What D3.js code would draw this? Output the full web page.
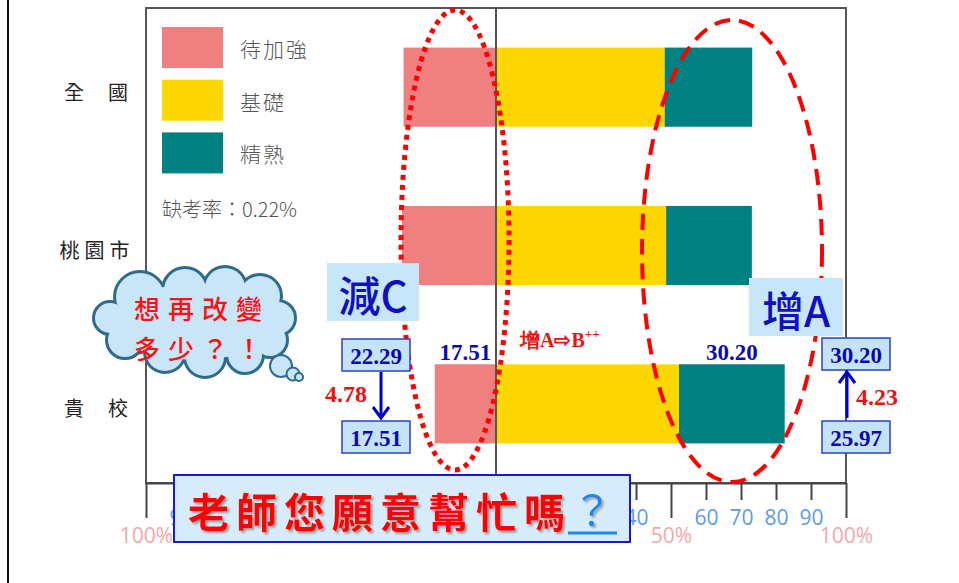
<!DOCTYPE html>
<html>
<head>
<meta charset="utf-8">
<script src="https://cdn.jsdelivr.net/npm/d3@7"></script>
<style>
  body { margin: 0; background: #fff; }
  svg { display: block; }
</style>
</head>
<body>
<div id="chart"></div>
<script>
// data
const categories = ['全國', '桃園市', '貴校'];
const categoryLabels = ['全　國', '桃園市', '貴　校'];
const series = ['待加強', '基礎', '精熟'];
const seriesColors = ['#f08080', '#ffd700', '#008080'];
const valuesC = [26.4, 26.9, 17.51];
const valuesB = [48.2, 48.6, 52.29];
const valuesA = [25.0, 24.5, 30.20];
const tickValues = d3.range(-100, 101, 10);
const absentRate = '缺考率：0.22%';

const width = 959, height = 583;
const plot = {left: 146, right: 846, top: 8, bottom: 483};
const banner = {x: 174, y: 475, w: 456, h: 67};

const svg = d3.select('#chart').append('svg')
    .attr('width', width)
    .attr('height', height);

const defs = svg.append('defs');
const shadow = defs.append('filter').attr('id', 'shadow')
    .attr('x', '-10%').attr('y', '-10%').attr('width', '130%').attr('height', '140%');
shadow.append('feDropShadow')
    .attr('dx', 2).attr('dy', 2).attr('stdDeviation', 1)
    .attr('flood-color', '#888').attr('flood-opacity', 0.8);

const x = d3.scaleLinear().domain([-100, 100]).range([plot.left, plot.right]);
const y = d3.scaleBand().domain(categories)
    .range([plot.top, plot.bottom])
    .paddingInner(0.5).paddingOuter(0.25);

// left page border
svg.append('line')
    .attr('x1', 8).attr('x2', 8).attr('y1', 0).attr('y2', height)
    .attr('stroke', '#111').attr('stroke-width', 2);

// frame
svg.append('rect')
    .attr('x', plot.left).attr('y', plot.top)
    .attr('width', plot.right - plot.left).attr('height', plot.bottom - plot.top)
    .attr('fill', 'none').attr('stroke', '#555').attr('stroke-width', 2);

// stacked bars
const rows = categories.map((c, i) => ({cat: c, C: valuesC[i], B: valuesB[i], A: valuesA[i]}));
const barG = svg.append('g');
rows.forEach(d => {
    const segs = [
        {x0: -d.C, x1: 0, color: seriesColors[0]},
        {x0: 0, x1: d.B, color: seriesColors[1]},
        {x0: d.B, x1: d.B + d.A, color: seriesColors[2]}
    ];
    barG.selectAll(null).data(segs).enter().append('rect')
        .attr('x', s => x(s.x0))
        .attr('width', s => x(s.x1) - x(s.x0))
        .attr('y', y(d.cat))
        .attr('height', y.bandwidth())
        .attr('fill', s => s.color);
});

// zero line
svg.append('line')
    .attr('x1', x(0)).attr('x2', x(0))
    .attr('y1', plot.top).attr('y2', plot.bottom)
    .attr('stroke', '#555').attr('stroke-width', 2);

// x axis (labels fully under the banner are not drawn, they are hidden there anyway)
const hidden = v => x(v) - 14 > banner.x && x(v) + 14 < banner.x + banner.w;
const axis = svg.append('g')
    .attr('transform', `translate(0,${plot.bottom})`)
    .call(d3.axisBottom(x).tickValues(tickValues).tickSize(17).tickSizeOuter(0)
        .tickFormat(v => (Math.abs(v) % 50 === 0 || hidden(v)) ? '' : Math.abs(v)));
axis.select('.domain').attr('stroke', '#444').attr('stroke-width', 2);
axis.selectAll('.tick line')
    .attr('stroke', '#444').attr('stroke-width', 2)
    .attr('y2', v => Math.abs(v) % 50 === 0 ? 35 : 17);
axis.selectAll('.tick text')
    .attr('y', 42).attr('dy', 0)
    .attr('fill', '#5b9be8')
    .style('font-family', 'Open Sans, sans-serif')
    .style('font-size', '21px');
axis.selectAll('.tick').filter(v => Math.abs(v) % 50 === 0 && !hidden(v))
    .append('text')
    .attr('y', 60).attr('fill', '#f4a7a7')
    .attr('text-anchor', 'middle')
    .style('font-family', 'Open Sans, sans-serif')
    .style('font-size', '21px')
    .text(v => Math.abs(v) + '%');

// category labels
svg.append('g').selectAll('text')
    .data(categories).enter().append('text')
    .attr('x', 97)
    .attr('y', d => y(d) + y.bandwidth() / 2 + 4)
    .attr('text-anchor', 'middle')
    .attr('dominant-baseline', 'central')
    .attr('fill', '#222')
    .style('font-family', 'Noto Sans CJK TC')
    .style('font-size', '20px')
    .style('letter-spacing', (d, i) => categoryLabels[i].includes('　') ? '2px' : '5px')
    .text((d, i) => categoryLabels[i]);

// legend
const legend = svg.append('g').attr('transform', 'translate(162,27)');
series.forEach((s, i) => {
    legend.append('rect')
        .attr('x', 0).attr('y', i * 52.7)
        .attr('width', 61).attr('height', 41)
        .attr('fill', seriesColors[i]);
    legend.append('text')
        .attr('x', 78).attr('y', i * 52.7 + 21)
        .attr('dominant-baseline', 'central')
        .attr('fill', '#555')
        .style('font-family', 'Noto Sans CJK TC')
        .style('font-weight', 300)
        .style('font-size', '21px')
        .style('letter-spacing', '2px')
        .text(s);
});
legend.append('text')
    .attr('x', 0).attr('y', 181)
    .attr('dominant-baseline', 'central')
    .attr('fill', '#555')
    .style('font-family', 'Noto Sans CJK TC')
    .style('font-weight', 300)
    .style('font-size', '20px')
    .text(absentRate);

// highlight ellipses
svg.append('ellipse')
    .attr('cx', 455).attr('cy', 240).attr('rx', 54).attr('ry', 230)
    .attr('fill', 'none').attr('stroke', '#ff0000')
    .attr('stroke-width', 5).attr('stroke-dasharray', '5 5');
svg.append('ellipse')
    .attr('cx', 732).attr('cy', 251).attr('rx', 90).attr('ry', 231)
    .attr('fill', 'none').attr('stroke', '#ff0000')
    .attr('stroke-width', 4).attr('stroke-dasharray', '16 9');

// value labels over school bar
const school = rows[2];
const numFont = 'Liberation Serif, Times New Roman, serif';
svg.append('text')
    .attr('x', (x(-school.C) + x(0)) / 2).attr('y', y(school.cat) - 12)
    .attr('text-anchor', 'middle').attr('dominant-baseline', 'central')
    .attr('fill', '#0a0ab0').style('font-family', numFont)
    .style('font-weight', 'bold').style('font-size', '23px')
    .text(school.C.toFixed(2));
svg.append('text')
    .attr('x', (x(school.B) + x(school.B + school.A)) / 2).attr('y', y(school.cat) - 12)
    .attr('text-anchor', 'middle').attr('dominant-baseline', 'central')
    .attr('fill', '#0a0ab0').style('font-family', numFont)
    .style('font-weight', 'bold').style('font-size', '23px')
    .text(school.A.toFixed(2));

svg.append('text')
    .attr('x', 520).attr('y', 340)
    .attr('dominant-baseline', 'central')
    .attr('fill', '#ee1111').style('font-family', numFont)
    .style('font-weight', 'bold').style('font-size', '20px')
    .html('增A⇨B<tspan font-size="13px" dy="-7">++</tspan>');

// big tag boxes
function tag(cx, cy, w, h, label) {
    svg.append('rect')
        .attr('x', cx - w / 2).attr('y', cy - h / 2)
        .attr('width', w).attr('height', h)
        .attr('fill', '#c8e6fa');
    svg.append('text')
        .attr('x', cx).attr('y', cy + 1)
        .attr('text-anchor', 'middle').attr('dominant-baseline', 'central')
        .attr('fill', '#1010c0')
        .style('font-family', 'Noto Sans CJK TC')
        .style('font-weight', 500)
        .style('font-size', '42px')
        .text(label);
}
tag(373, 292, 92, 58, '減C');
tag(796, 307, 94, 58, '增A');

// small value boxes
function valBox(cx, cy, label) {
    svg.append('rect')
        .attr('x', cx - 34).attr('y', cy - 16)
        .attr('width', 68).attr('height', 32)
        .attr('fill', '#c5e3f7').attr('stroke', '#2b3fd0').attr('stroke-width', 1.5);
    svg.append('text')
        .attr('x', cx).attr('y', cy + 1)
        .attr('text-anchor', 'middle').attr('dominant-baseline', 'central')
        .attr('fill', '#0a0ab0').style('font-family', numFont)
        .style('font-weight', 'bold').style('font-size', '23px')
        .text(label);
}
valBox(376, 355, '22.29');
valBox(376, 437, '17.51');
valBox(856, 354, '30.20');
valBox(856, 437, '25.97');

function arrow(ax, y1, y2) {
    const dir = y2 > y1 ? 1 : -1;
    svg.append('line')
        .attr('x1', ax).attr('x2', ax).attr('y1', y1).attr('y2', y2)
        .attr('stroke', '#0000cc').attr('stroke-width', 3);
    svg.append('path')
        .attr('d', `M${ax - 8},${y2 - dir * 11}L${ax},${y2}L${ax + 8},${y2 - dir * 11}`)
        .attr('fill', 'none').attr('stroke', '#0000cc').attr('stroke-width', 3);
}
arrow(381, 372, 418);
arrow(847, 418, 372);

function diffText(tx, ty, label, anchor) {
    svg.append('text')
        .attr('x', tx).attr('y', ty)
        .attr('text-anchor', anchor).attr('dominant-baseline', 'central')
        .attr('fill', '#ee1111').style('font-family', numFont)
        .style('font-weight', 'bold').style('font-size', '24px')
        .text(label);
}
diffText(367, 394, '4.78', 'end');
diffText(856, 397, '4.23', 'start');

// thought cloud
const cloudFill = '#c8e6f8', cloudStroke = '#2f6b8a';
const bumps = [
    [140, 297, 25], [185, 290, 22], [225, 288, 21], [260, 296, 21],
    [278, 318, 17], [270, 340, 17], [245, 355, 18], [205, 357, 20],
    [165, 352, 20], [125, 340, 18], [110, 318, 16]
];
const cloud = svg.append('g');
cloud.selectAll('.edge').data(bumps).enter().append('circle')
    .attr('cx', d => d[0]).attr('cy', d => d[1]).attr('r', d => d[2])
    .attr('fill', cloudFill).attr('stroke', cloudStroke).attr('stroke-width', 4);
cloud.selectAll('.fill').data(bumps).enter().append('circle')
    .attr('cx', d => d[0]).attr('cy', d => d[1]).attr('r', d => d[2] - 1)
    .attr('fill', cloudFill);
cloud.append('ellipse')
    .attr('cx', 195).attr('cy', 322).attr('rx', 82).attr('ry', 38)
    .attr('fill', cloudFill);
[[281, 366, 11], [293, 374, 6.5], [299, 377, 4]].forEach(b => {
    cloud.append('circle')
        .attr('cx', b[0]).attr('cy', b[1]).attr('r', b[2])
        .attr('fill', cloudFill).attr('stroke', cloudStroke).attr('stroke-width', 2);
});
['想再改變', '多少？！'].forEach((line, i) => {
    cloud.append('text')
        .attr('x', 198).attr('y', 307 + i * 40)
        .attr('text-anchor', 'middle').attr('dominant-baseline', 'central')
        .attr('fill', '#ff1010')
        .style('font-family', 'Noto Sans CJK TC')
        .style('font-weight', 500)
        .style('font-size', '26px')
        .attr('textLength', 128)
        .text(line);
});

// bottom banner
svg.append('rect')
    .attr('x', banner.x).attr('y', banner.y)
    .attr('width', banner.w).attr('height', banner.h)
    .attr('fill', '#d6ecfa').attr('stroke', '#1a1acc').attr('stroke-width', 2);
svg.append('text')
    .attr('x', 188).attr('y', 510)
    .attr('dominant-baseline', 'central')
    .attr('fill', '#ff0000')
    .attr('filter', 'url(#shadow)')
    .style('font-family', 'Noto Sans CJK TC')
    .style('font-weight', 'bold')
    .style('font-size', '41px')
    .attr('textLength', 377)
    .attr('lengthAdjust', 'spacing')
    .text('老師您願意幫忙嗎');
svg.append('text')
    .attr('x', 592).attr('y', 508)
    .attr('text-anchor', 'middle').attr('dominant-baseline', 'central')
    .attr('fill', '#1e88e5')
    .attr('filter', 'url(#shadow)')
    .style('font-family', 'Noto Sans CJK TC')
    .style('font-size', '40px')
    .text('？');
svg.append('line')
    .attr('x1', 568).attr('x2', 617).attr('y1', 533).attr('y2', 533)
    .attr('stroke', '#1e88e5').attr('stroke-width', 3);
</script>
</body>
</html>
